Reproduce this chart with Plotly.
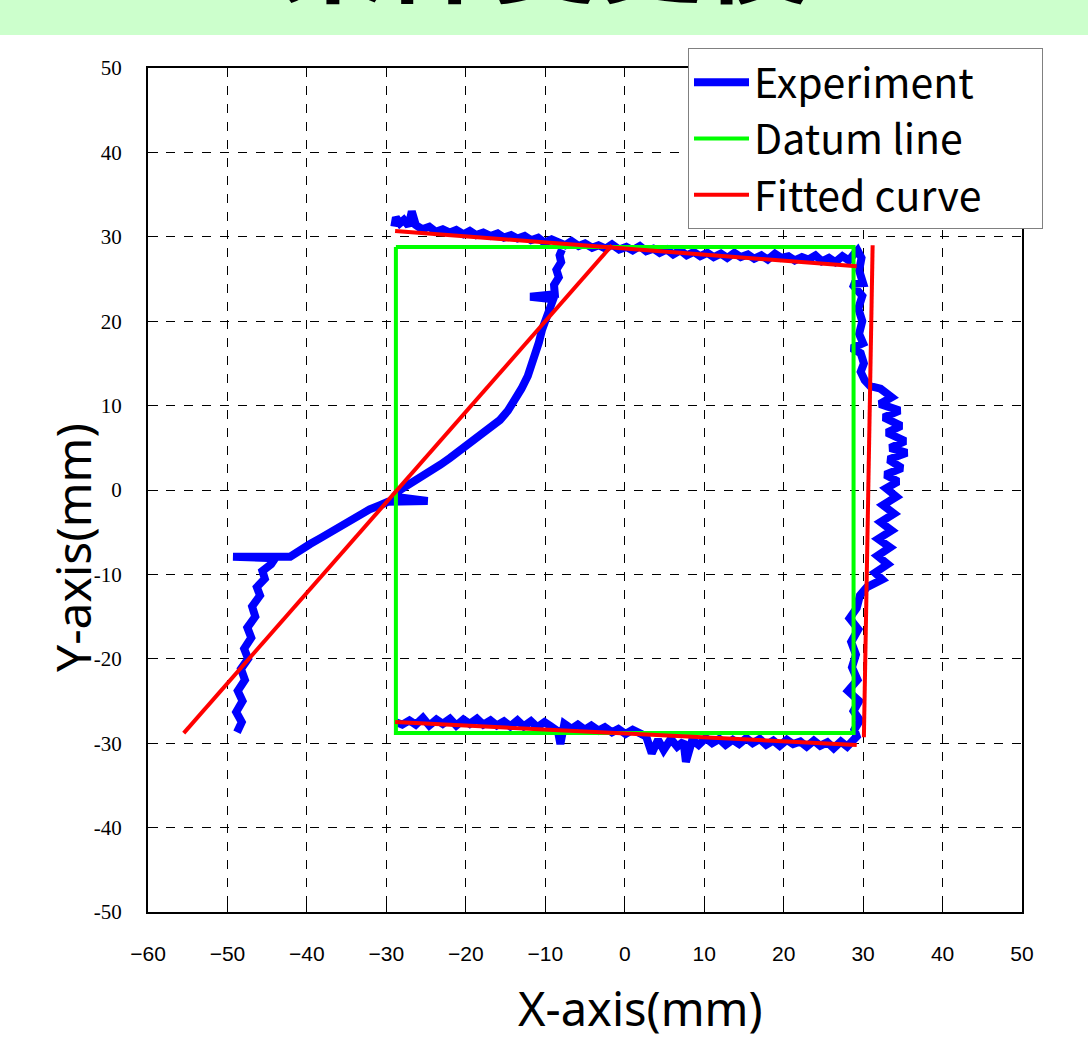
import plotly.graph_objects as go

# ---- data (mm) ----
x_ticks = [-60, -50, -40, -30, -20, -10, 0, 10, 20, 30, 40, 50]
y_ticks = [-50, -40, -30, -20, -10, 0, 10, 20, 30, 40, 50]

exp_top = [(-29.0,31.2),(-28.8,32.3),(-28.3,31.6),(-27.8,32.0),(-27.2,31.3),(-26.8,33.0),(-26.3,31.4),
           (-25.5,30.9),(-24.6,31.2),(-23.8,30.6),(-22.9,30.9),(-22.0,30.5),(-21.2,30.8),(-20.3,30.3),
           (-19.5,30.7),(-18.7,30.2),(-17.8,30.5),(-16.9,30.1),(-16.0,30.4),(-15.2,29.9),(-14.3,30.2),
           (-13.5,29.8),(-12.6,30.1),(-11.8,29.6),(-10.9,29.9),(-10.1,29.3),(-9.2,29.7),(-8.4,29.4),
           (-7.5,29.0),(-6.7,29.5),(-5.8,28.9),(-5.0,29.2),(-4.1,28.7),(-3.3,29.0),(-2.4,28.6),(-1.6,29.1),
           (-0.7,28.5),(0.2,28.8),(1.0,28.4),(1.9,28.9),(2.7,28.3),(3.6,28.6),(4.4,28.1),(5.3,28.5),
           (6.1,27.9),(7.0,28.4),(7.8,27.8),(8.7,28.2),(9.5,27.7),(10.4,28.1),(11.2,27.6),(12.1,28.0),
           (12.9,27.5),(13.8,28.1),(14.6,27.6),(15.5,27.9),(16.3,27.4),(17.2,27.8),(18.0,27.3),(18.9,28.0),
           (19.7,27.5),(20.6,27.7),(21.4,27.2),(22.3,27.6),(23.1,27.3),(24.0,27.8),(24.8,27.1),(25.7,27.5),
           (26.5,27.0),(27.4,27.7),(28.2,27.2),(28.9,28.0)]

exp_right = [(29.3,28.4),(29.8,27.5),(29.5,26.0),(30.0,24.5),(28.6,24.4),(29.9,23.0),(29.4,21.5),
             (29.9,20.0),(29.5,18.5),(30.0,17.4),(28.6,16.8),(29.7,16.2),(30.1,15.0),(29.7,14.0),
             (30.2,13.0),(30.9,12.3),(32.2,12.0),(33.6,11.0),(32.1,10.2),(34.6,9.4),(32.6,8.6),(34.8,7.6),
             (33.0,6.8),(35.3,5.8),(33.4,5.0),(35.5,4.4),(33.2,3.6),(34.9,2.6),(32.8,1.8),(34.4,1.0),
             (32.9,0.2),(34.2,-0.8),(32.5,-1.8),(33.9,-2.8),(32.2,-3.8),(33.6,-4.8),(31.9,-5.8),(33.4,-6.8),
             (31.8,-7.8),(33.1,-8.8),(31.5,-9.8),(32.4,-10.6),(30.5,-11.5),(29.6,-12.5),(29.2,-14.0),
             (28.3,-15.2),(29.4,-16.5),(28.5,-18.0),(29.1,-19.5),(28.6,-21.0),(29.3,-22.5),(28.1,-23.8),
             (29.5,-25.0),(28.8,-26.2),(29.6,-27.3),(28.9,-28.4),(29.2,-29.2)]

exp_bottom = [(28.9,-29.5),(28.0,-30.4),(27.2,-29.8),(26.3,-30.6),(25.5,-29.9),(24.6,-30.3),(23.8,-29.7),
              (22.9,-30.4),(22.1,-29.8),(21.2,-30.1),(20.4,-29.6),(19.5,-30.3),(18.7,-29.7),(17.8,-30.2),
              (17.0,-29.5),(16.1,-30.0),(15.3,-29.4),(14.4,-30.1),(13.6,-29.6),(12.7,-30.2),(11.9,-29.5),
              (11.0,-30.0),(10.2,-29.4),(9.3,-30.2),(8.5,-29.6),(7.7,-32.2),(7.4,-29.8),(6.6,-30.4),
              (5.8,-29.5),(4.9,-30.8),(4.2,-29.6),(3.4,-31.2),(2.7,-29.2),(1.8,-28.9),(1.0,-28.4),
              (0.1,-28.9),(-0.8,-28.3),(-1.6,-28.7),(-2.5,-28.1),(-3.3,-28.5),(-4.2,-27.9),(-5.0,-28.4),
              (-5.9,-27.8),(-6.7,-28.3),(-7.6,-27.7),(-8.1,-30.1),(-8.4,-28.6),(-9.3,-28.0),(-10.1,-27.5),
              (-11.0,-28.1),(-11.8,-27.4),(-12.7,-28.0),(-13.5,-27.3),(-14.4,-28.0),(-15.2,-27.4),
              (-16.1,-27.9),(-16.9,-27.3),(-17.8,-27.8),(-18.6,-27.1),(-19.5,-27.7),(-20.3,-27.2),
              (-21.2,-27.9),(-22.0,-27.1),(-22.9,-27.7),(-23.7,-27.2),(-24.6,-27.9),(-25.4,-27.0),
              (-26.3,-27.8),(-27.1,-27.3),(-28.0,-27.8),(-28.8,-27.5)]

exp_diag = [(-48.8,-28.7),(-48.2,-27.5),(-48.9,-26.3),(-48.1,-25.0),(-48.7,-23.8),(-47.8,-22.5),
            (-48.3,-21.2),(-47.4,-20.0),(-47.9,-18.8),(-47.0,-17.5),(-47.5,-16.3),(-46.5,-15.0),
            (-46.9,-13.8),(-45.9,-12.5),(-46.3,-11.5),(-45.3,-10.5),(-45.6,-9.6),(-44.5,-8.8),
            (-44.0,-8.1),(-49.3,-7.9),(-42.1,-7.9),(-40.8,-7.0),(-39.6,-6.4),(-38.3,-5.7),(-37.1,-5.0),
            (-35.8,-4.2),(-34.6,-3.5),(-33.3,-2.9),(-32.1,-2.3),(-30.8,-1.8),(-29.8,-1.4),(-24.8,-1.3),
            (-29.0,-0.8),(-28.3,0.0),(-27.0,0.7),(-25.8,1.4),(-24.5,2.2),(-23.2,3.0),(-22.0,3.8),
            (-20.7,4.7),(-19.5,5.6),(-18.2,6.5),(-17.0,7.4),(-15.7,8.3),(-14.7,9.4),(-13.8,10.6),
            (-13.0,12.0),(-12.2,13.5),(-11.7,14.8),(-11.3,16.0),(-10.8,17.5),(-10.4,19.0),(-10.0,20.2),
            (-9.6,21.4),(-9.0,22.6),(-11.9,22.9),(-8.8,23.2),(-8.9,24.3),(-8.3,25.2),(-8.6,26.1),
            (-8.0,27.0),(-8.2,27.8),(-7.9,28.5)]

datum_x = [-28.8, 28.8, 28.8, -28.8, -28.8]
datum_y = [28.8, 28.8, -28.8, -28.8, 28.8]

fit_x = [-28.9, 29.2, None, 31.2, 30.1, None, -28.9, 29.2, None, -55.5, -1.6]
fit_y = [30.7, 26.5, None, 29.0, -29.3, None, -27.5, -30.2, None, -28.8, 29.0]

series_names = ["Experiment", "Datum line", "Fitted curve"]

# ---- build traces ----
exp_x, exp_y = [], []
for seg in (exp_top + exp_right + exp_bottom, exp_diag):
    exp_x += [p[0] for p in seg] + [None]
    exp_y += [p[1] for p in seg] + [None]

NB = "\u00a0"
fig = go.Figure()
fig.add_trace(go.Scatter(x=exp_x, y=exp_y, mode="lines", name=series_names[0],
                         line=dict(color="#0000FF", width=8), legendgroup="a"))
fig.add_trace(go.Scatter(x=datum_x, y=datum_y, mode="lines", name=series_names[1],
                         line=dict(color="#00FF00", width=4), legendgroup="b"))
fig.add_trace(go.Scatter(x=fit_x, y=fit_y, mode="lines", name=series_names[2] + NB * 6,
                         line=dict(color="#FF0000", width=4), legendgroup="c"))

axis_common = dict(showgrid=True, gridcolor="black", griddash="dash", gridwidth=1,
                   showline=True, linecolor="black", linewidth=2, mirror=True,
                   ticks="inside", ticklen=10, tickcolor="black", zeroline=False)

fig.update_xaxes(range=[-60, 50], tickvals=x_ticks,
                 ticktext=[("\u2212" if v < 0 else "") + str(abs(v)) for v in x_ticks],
                 tickfont=dict(family="Liberation Sans Narrow, Liberation Sans", size=21, color="black"),
                 ticklabelstandoff=22, **axis_common)
fig.update_yaxes(range=[-50, 50], tickvals=y_ticks, ticktext=[str(v) for v in y_ticks],
                 tickfont=dict(family="Liberation Serif, Times New Roman", size=21, color="black"),
                 ticklabelstandoff=20, **axis_common)

fig.add_shape(type="rect", xref="paper", yref="paper", x0=-0.5, x1=1.5, y0=(912 - 35) / 844, y1=1.3,
              fillcolor="#CCFFCC", line=dict(width=0), layer="below")

fig.add_annotation(text="<b>条件変更後</b>", xref="paper", yref="paper", x=(545 - 148) / 874,
                   y=(912 + 52) / 844, xanchor="center", yanchor="middle", showarrow=False,
                   font=dict(family="Noto Sans CJK JP", size=106, color="black"))

fig.add_annotation(text="X-axis(mm)", xref="paper", yref="paper", x=(640 - 148) / 874,
                   y=(912 - 1008) / 844, xanchor="center", yanchor="middle", showarrow=False,
                   font=dict(family="Noto Sans", size=47, color="black"))
fig.add_annotation(text="Y-axis(mm)", xref="paper", yref="paper", x=(72 - 148) / 874,
                   y=(912 - 548) / 844, xanchor="center", yanchor="middle", showarrow=False,
                   textangle=-90, font=dict(family="Noto Sans", size=48, color="black"))

fig.update_layout(
    width=1088, height=1043,
    margin=dict(l=148, r=66, t=68, b=131),
    plot_bgcolor="white", paper_bgcolor="white",
    showlegend=True,
    legend=dict(x=(688 - 148) / 874, y=(912 - 48) / 844, xanchor="left", yanchor="top",
                bgcolor="white", bordercolor="#808080", borderwidth=1,
                font=dict(family="Noto Sans CJK JP", size=41, color="black"),
                itemwidth=55, tracegroupgap=0, traceorder="grouped"),
)

fig.write_html("out.html", post_script="document.body.style.margin='0';",
               config={"displayModeBar": False})
